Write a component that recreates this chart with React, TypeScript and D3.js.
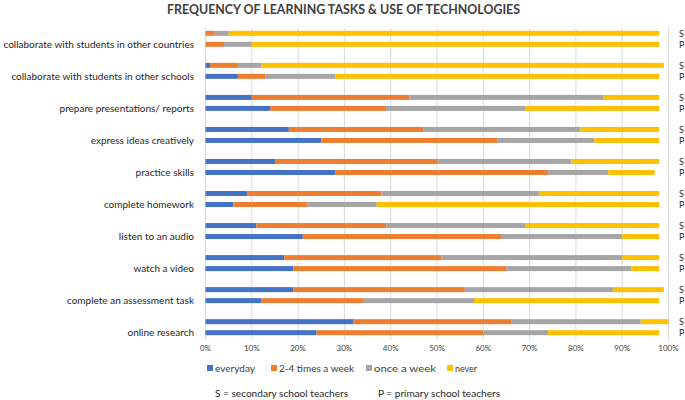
import React from "react";
import * as d3 from "d3";

const categories = [
  "collaborate with students in other countries",
  "collaborate with students in other schools",
  "prepare presentations/ reports",
  "express ideas creatively",
  "practice skills",
  "complete homework",
  "listen to an audio",
  "watch a video",
  "complete an assessment task",
  "online research",
];
const groups = ["S", "P"];
const seriesNames = ["everyday", "2-4 times a week", "once a week", "never"];
const seriesColors = ["#4472C4", "#ED7D31", "#A5A5A5", "#FFC000"];

// values in percent, per category, [S, P]
const everyday = [[0, 0], [1, 7], [10, 14], [18, 25], [15, 28], [9, 6], [11, 21], [17, 19], [19, 12], [32, 24]];
const twoFour = [[2, 4], [6, 6], [34, 25], [29, 38], [35, 46], [29, 16], [28, 43], [34, 46], [37, 22], [34, 36]];
const onceWeek = [[3, 6], [5, 15], [42, 30], [34, 21], [29, 13], [34, 15], [30, 26], [39, 27], [32, 24], [28, 14]];
const never = [[93, 88], [87, 70], [12, 29], [17, 14], [19, 10], [26, 61], [29, 8], [8, 6], [11, 40], [6, 24]];

const xTicks = [0, 10, 20, 30, 40, 50, 60, 70, 80, 90, 100];
const titleText = "FREQUENCY OF LEARNING TASKS & USE OF TECHNOLOGIES";
const noteS = "S = secondary school teachers";
const noteP = "P = primary school teachers";

export default function App() {
  const W = 685, H = 400;
  const font = "Lato, 'Open Sans', sans-serif";
  const x = d3.scaleLinear().domain([0, 100]).range([205.5, 668.5]);
  const y = d3.scaleBand<string>().domain(categories).range([22.8, 343.2]);
  const yInner = d3.scaleBand<string>().domain(groups).range([-11, 11]).paddingInner(0).padding(0);
  const barH = 5;
  const all = [everyday, twoFour, onceWeek, never];

  const rects: JSX.Element[] = [];
  categories.forEach((c, ci) => {
    groups.forEach((g, gi) => {
      let acc = 0;
      all.forEach((s, si) => {
        const v = s[ci][gi];
        const cy = (y(c) as number) + y.bandwidth() / 2 + (yInner(g) as number) + yInner.bandwidth() / 2;
        if (v > 0) {
          rects.push(
            <rect key={`${ci}-${gi}-${si}`} x={x(acc)} width={x(acc + v) - x(acc)} y={cy - barH / 2} height={barH} fill={seriesColors[si]} />
          );
        }
        acc += v;
      });
    });
  });

  const legendX = [207, 271, 366, 447];
  const legendW = [40, 75, 62, 22];

  return (
    <div style={{ position: "absolute", left: 0, top: 0 }}>
      <svg width={W} height={H} style={{ display: "block", background: "#fff" }} fontFamily={font}>
        <text x={343.5} y={14} textAnchor="middle" fontSize={13} fontWeight="bold" fill="#404040" textLength={353} lengthAdjust="spacingAndGlyphs">{titleText}</text>
        {xTicks.map((t) => (
          <line key={t} x1={x(t)} x2={x(t)} y1={28} y2={340} stroke="#D9D9D9" strokeWidth={1} />
        ))}
        {rects}
        {xTicks.map((t) => (
          <text key={t} x={x(t)} y={351} textAnchor="middle" fontSize={8} fill="#404040">{t}%</text>
        ))}
        {categories.map((c) => {
          const cy = (y(c) as number) + y.bandwidth() / 2 + (yInner("P") as number) + yInner.bandwidth() / 2;
          return (
            <text key={c} x={194} y={cy + 3.5} textAnchor="end" fontSize={10} fill="#262626">{c}</text>
          );
        })}
        {categories.map((c) =>
          groups.map((g) => {
            const cy = (y(c) as number) + y.bandwidth() / 2 + (yInner(g) as number) + yInner.bandwidth() / 2;
            return (
              <text key={c + g} x={679} y={cy + 3.3} fontSize={9} fill="#262626">{g}</text>
            );
          })
        )}
        {seriesNames.map((n, i) => (
          <g key={n}>
            <rect x={legendX[i]} y={365} width={6} height={6} fill={seriesColors[i]} />
            <text x={legendX[i] + 8} y={371.5} fontSize={10} fill="#404040" textLength={legendW[i]} lengthAdjust="spacingAndGlyphs">{n}</text>
          </g>
        ))}
        <text x={215} y={396.5} fontSize={10} fill="#262626" textLength={133} lengthAdjust="spacingAndGlyphs">{noteS}</text>
        <text x={378} y={396.5} fontSize={10} fill="#262626" textLength={122} lengthAdjust="spacingAndGlyphs">{noteP}</text>
      </svg>
    </div>
  );
}
